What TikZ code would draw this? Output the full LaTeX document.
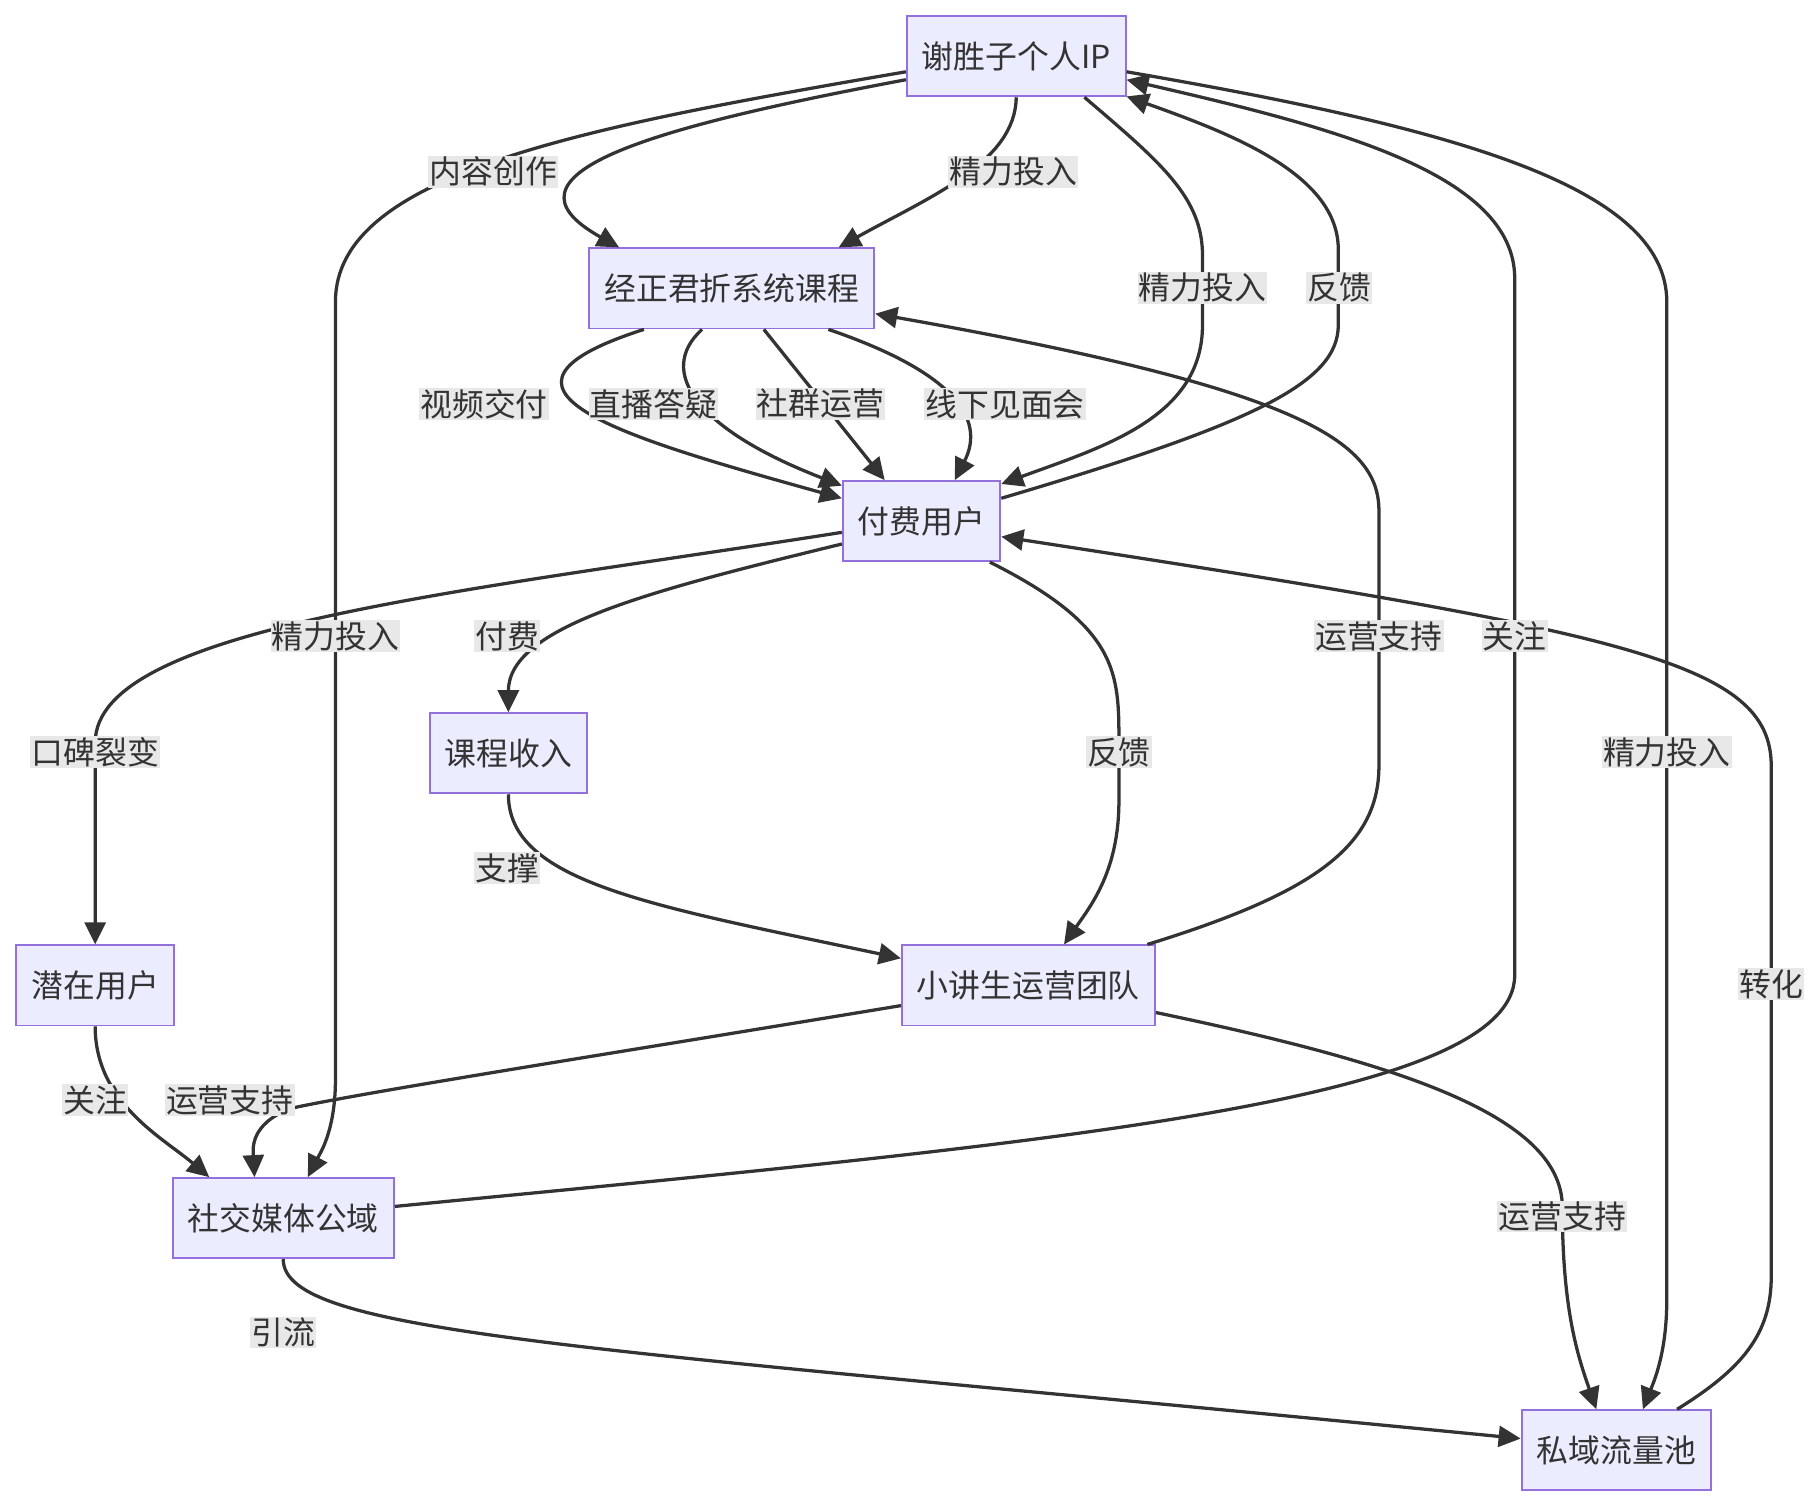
\documentclass[tikz,border=0pt]{standalone}
\usepackage{fontspec}
\setmainfont{Noto Sans CJK SC}
\usetikzlibrary{arrows.meta}
\definecolor{boxfill}{HTML}{ECECFF}
\definecolor{boxline}{HTML}{9370DB}
\definecolor{inkcol}{HTML}{333333}
\definecolor{tagfill}{HTML}{E8E8E8}
\begin{document}
\begin{tikzpicture}[x=0.01cm, y=-0.01cm,
    every node/.style={font=\fontsize{7.8}{9}\selectfont, text=inkcol},
    stage/.style={draw=boxline, fill=boxfill, line width=0.45pt,
        inner xsep=0.13cm, inner ysep=0pt, minimum height=0.69cm},
    tag/.style={fill=tagfill, inner sep=0.01cm},
    flow/.style={draw=inkcol, line width=0.8pt,
        -{Triangle[length=0.19cm,width=0.18cm]}}]
    \useasboundingbox (0,0) rectangle (1568,1301);
    % boxes
    \node[stage] (ip) at (875.5,48.5) {谢胜子个人IP};
    \node[stage] (course) at (630.5,248.5) {经正君折系统课程};
    \node[stage] (paid) at (794,449) {付费用户};
    \node[stage] (income) at (438,649) {课程收入};
    \node[stage] (potential) at (82,849) {潜在用户};
    \node[stage] (team) at (886,849) {小讲生运营团队};
    \node[stage] (social) at (244,1049.5) {社交媒体公域};
    \node[stage] (private) at (1392.5,1249.5) {私域流量池};
    % links from the IP
    \draw[flow] (ip.192) .. controls (560,110) and (420,150) .. (course.160);
    \draw[flow] (ip.south) .. controls (875,140) and (800,170) .. (course.21);
    \draw[flow] (ip.188) .. controls (500,110) and (289,150) .. (289,260)
        -- (289,930) .. controls (289,975) and (275,995) .. (social.59);
    \draw[flow] (ip.329) .. controls (1000,140) and (1036,170) .. (1036,220)
        -- (1036,280) .. controls (1036,360) and (950,385) .. (paid.25);
    \draw[flow] (paid.16) .. controls (1080,365) and (1153,330) .. (1153,280)
        -- (1153,215) .. controls (1153,150) and (1060,115) .. (ip.340);
    \draw[flow] (social.6) .. controls (900,985) and (1305,950) .. (1305,840)
        -- (1305,240) .. controls (1305,150) and (1150,110) .. (ip.348);
    \draw[flow] (ip.352) .. controls (1250,110) and (1436,160) .. (1436,260)
        -- (1436,1120) .. controls (1436,1165) and (1425,1190) .. (private.57);
    % course to paid users
    \draw[flow] (course.205) .. controls (395,335) and (530,375) .. (paid.164);
    \draw[flow] (course.234) .. controls (565,320) and (600,370) .. (paid.156);
    \draw[flow] (course.308) -- (paid.132);
    \draw[flow] (course.337) .. controls (820,320) and (850,360) .. (paid.51);
    % lower part
    \draw[flow] (paid.196) .. controls (560,509) and (438,540) .. (income.north);
    \draw[flow] (paid.188) .. controls (400,510) and (82,540) .. (82,640)
        -- (potential.north);
    \draw[flow] (paid.329) .. controls (964,540) and (964,580) .. (964,640)
        -- (964,690) .. controls (964,750) and (940,780) .. (team.49);
    \draw[flow] (income.south) .. controls (438,760) and (560,780) .. (team.168);
    \draw[flow] (team.19) .. controls (1130,770) and (1188,730) .. (1188,660)
        -- (1188,440) .. controls (1188,380) and (1120,335) .. (course.350);
    \draw[flow] (potential.south) .. controls (82,950) and (140,980) .. (social.151);
    \draw[flow] (team.189) .. controls (500,912) and (320,940) .. (250,955)
        .. controls (215,969) and (218,990) .. (social.125);
    \draw[flow] (team.348) .. controls (1200,915) and (1346,960) .. (1346,1040)
        .. controls (1346,1130) and (1360,1170) .. (private.116);
    \draw[flow] (social.south) .. controls (244,1150) and (500,1160) .. (private.173);
    \draw[flow] (private.34) .. controls (1500,1180) and (1526,1150) .. (1526,1100)
        -- (1526,660) .. controls (1526,570) and (1400,545) .. (paid.349);
    % labels
    \node[tag] (tCreate) at (425,148) {内容创作};
    \node[tag] (tEnergyA) at (873,148) {精力投入};
    \node[tag] (tEnergyB) at (289,548) {精力投入};
    \node[tag] (tEnergyC) at (1036,248) {精力投入};
    \node[tag] (tBackA) at (1154,248) {反馈};
    \node[tag] (tFollowA) at (1305,548) {关注};
    \node[tag] (tEnergyD) at (1436,648) {精力投入};
    \node[tag] (tVideo) at (417,348) {视频交付};
    \node[tag] (tLive) at (563,348) {直播答疑};
    \node[tag] (tGroup) at (707,348) {社群运营};
    \node[tag] (tMeet) at (866,348) {线下见面会};
    \node[tag] (tPay) at (437,548) {付费};
    \node[tag] (tWord) at (82,648) {口碑裂变};
    \node[tag] (tBackB) at (964,648) {反馈};
    \node[tag] (tProp) at (437,748) {支撑};
    \node[tag] (tOpsA) at (1188,548) {运营支持};
    \node[tag] (tFollowB) at (82,948) {关注};
    \node[tag] (tOpsB) at (198,948) {运营支持};
    \node[tag] (tOpsC) at (1346,1048) {运营支持};
    \node[tag] (tDraw) at (244,1148) {引流};
    \node[tag] (tConv) at (1526,848) {转化};
\end{tikzpicture}
\end{document}
